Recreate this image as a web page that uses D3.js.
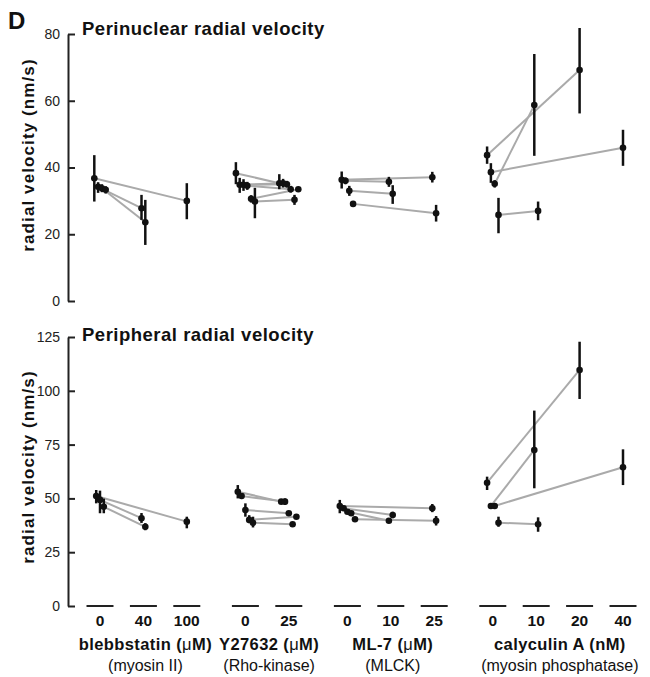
<!DOCTYPE html>
<html>
<head>
<meta charset="utf-8">
<script src="https://cdn.jsdelivr.net/npm/d3@7"></script>
<style>
  body { margin: 0; background: #fff; }
  svg { display: block; font-family: "Liberation Sans", Arial, sans-serif; }
</style>
</head>
<body>
<div id="chart"></div>
<script>
// drug groups and the doses tested in each
const groups = ["blebbstatin", "Y27632", "ML-7", "calyculin A"];
const groupDoses = [["0", "40", "100"], ["0", "25"], ["0", "10", "25"], ["0", "10", "20", "40"]];
const groupNames = ["blebbstatin", "Y27632", "ML-7", "calyculin A"];
const groupUnits = ["μM", "μM", "μM", "nM"];
const groupTargets = ["(myosin II)", "(Rho-kinase)", "(MLCK)", "(myosin phosphatase)"];

const topTicks = [0, 20, 40, 60, 80];
const bottomTicks = [0, 25, 50, 75, 100, 125];

// group, dose, mean, error low, error high, experiment
const perinuclear = [
    ["blebbstatin", "0", 36.8, 29.8, 43.7, 1],
    ["blebbstatin", "0", 34.2, 32.4, 35.6, 2],
    ["blebbstatin", "0", 33.8, 32.6, 35.0, 3],
    ["blebbstatin", "0", 33.3, 32.2, 34.4, 4],
    ["blebbstatin", "40", 27.8, 24.3, 31.8, 2],
    ["blebbstatin", "40", 23.6, 16.8, 30.3, 3],
    ["blebbstatin", "100", 30.0, 24.5, 35.3, 1],
    ["Y27632", "0", 38.3, 35.0, 41.6, 1],
    ["Y27632", "0", 34.8, 32.4, 36.9, 2],
    ["Y27632", "0", 34.8, 33.0, 36.5, 3],
    ["Y27632", "0", 34.5, 33.3, 35.7, 4],
    ["Y27632", "0", 30.6, 29.5, 31.7, 5],
    ["Y27632", "0", 29.8, 24.8, 33.9, 6],
    ["Y27632", "25", 35.3, 33.5, 38.0, 1],
    ["Y27632", "25", 35.3, 34.0, 36.6, 2],
    ["Y27632", "25", 35.0, 34.0, 36.0, 3],
    ["Y27632", "25", 33.5, 32.5, 34.5, 4],
    ["Y27632", "25", 30.3, 28.8, 31.8, 6],
    ["Y27632", "25", 33.5, 33.5, 33.5, 5],
    ["ML-7", "0", 36.3, 33.7, 38.8, 1],
    ["ML-7", "0", 36.0, 35.0, 37.0, 2],
    ["ML-7", "0", 33.0, 31.5, 34.5, 3],
    ["ML-7", "0", 29.1, 29.1, 29.1, 4],
    ["ML-7", "10", 35.7, 34.2, 37.2, 2],
    ["ML-7", "10", 32.1, 29.1, 34.7, 3],
    ["ML-7", "25", 37.1, 35.5, 38.7, 1],
    ["ML-7", "25", 26.3, 23.8, 28.8, 4],
    ["calyculin A", "0", 43.7, 41.1, 46.3, 1],
    ["calyculin A", "0", 38.6, 35.4, 41.3, 2],
    ["calyculin A", "0", 35.1, 34.0, 36.2, 3],
    ["calyculin A", "0", 25.8, 20.3, 30.9, 4],
    ["calyculin A", "10", 58.7, 43.5, 74.0, 3],
    ["calyculin A", "10", 27.0, 24.2, 29.8, 4],
    ["calyculin A", "20", 69.2, 56.2, 81.8, 1],
    ["calyculin A", "40", 45.9, 40.5, 51.3, 2]
];

const peripheral = [
    ["blebbstatin", "0", 51.1, 47.7, 53.9, 1],
    ["blebbstatin", "0", 49.3, 43.1, 53.6, 2],
    ["blebbstatin", "0", 46.1, 43.1, 49.9, 3],
    ["blebbstatin", "40", 40.8, 38.6, 43.2, 2],
    ["blebbstatin", "40", 36.8, 35.2, 38.5, 3],
    ["blebbstatin", "100", 39.2, 36.1, 41.5, 1],
    ["Y27632", "0", 53.1, 50.0, 56.2, 1],
    ["Y27632", "0", 51.1, 49.7, 52.5, 2],
    ["Y27632", "0", 44.6, 41.5, 47.7, 3],
    ["Y27632", "0", 40.0, 38.5, 42.2, 4],
    ["Y27632", "0", 38.7, 36.5, 41.5, 5],
    ["Y27632", "25", 48.5, 48.5, 48.5, 1],
    ["Y27632", "25", 48.5, 47.0, 50.0, 2],
    ["Y27632", "25", 43.1, 43.1, 43.1, 3],
    ["Y27632", "25", 38.0, 38.0, 38.0, 5],
    ["Y27632", "25", 41.5, 41.5, 41.5, 4],
    ["ML-7", "0", 46.5, 43.1, 49.3, 1],
    ["ML-7", "0", 45.4, 44.3, 46.5, 2],
    ["ML-7", "0", 43.8, 42.8, 44.8, 3],
    ["ML-7", "0", 43.1, 42.3, 43.9, 4],
    ["ML-7", "0", 40.3, 40.3, 40.3, 5],
    ["ML-7", "10", 39.6, 39.6, 39.6, 3],
    ["ML-7", "10", 42.3, 40.8, 43.8, 2],
    ["ML-7", "25", 45.4, 43.6, 47.4, 1],
    ["ML-7", "25", 39.6, 37.4, 41.8, 5],
    ["calyculin A", "0", 57.3, 53.9, 60.1, 1],
    ["calyculin A", "0", 46.5, 46.5, 46.5, 2],
    ["calyculin A", "0", 46.5, 46.5, 46.5, 3],
    ["calyculin A", "0", 38.7, 36.8, 41.5, 4],
    ["calyculin A", "10", 72.5, 54.7, 90.8, 2],
    ["calyculin A", "10", 38.0, 34.5, 41.2, 4],
    ["calyculin A", "20", 109.7, 96.2, 122.8, 1],
    ["calyculin A", "40", 64.5, 56.2, 72.8, 3]
];

const width = 650, height = 677;
const font = '"Liberation Sans", Arial, sans-serif';

const svg = d3.select("#chart").append("svg")
    .attr("width", width)
    .attr("height", height);

// slot positions: one unit per dose, a little extra gap between drugs
const groupGap = 0.35;
const slots = [];
let pos = 0;
groups.forEach((g, gi) => {
    if (gi > 0) pos += groupGap;
    groupDoses[gi].forEach(d => {
        slots.push({ group: g, dose: d, u: pos });
        pos += 1;
    });
});
const slotU = new Map(slots.map(s => [s.group + "|" + s.dose, s.u]));
const x = d3.scaleLinear().domain([0, pos - 1]).range([100, 623]);
const jitter = 3.8;
const barWidth = 27;

function drawPanel(rows, yScale, ticks, title, titleY, labelY) {
    const g = svg.append("g");

    // y axis, ticks pointing inward
    const axis = g.append("g")
        .attr("transform", "translate(68,0)")
        .call(d3.axisLeft(yScale).tickValues(ticks).tickSizeInner(-7).tickSizeOuter(0).tickPadding(8));
    axis.select(".domain").attr("stroke", "#222").attr("stroke-width", 2);
    axis.selectAll(".tick line").attr("stroke", "#222").attr("stroke-width", 2);
    axis.selectAll(".tick text")
        .attr("font-family", font)
        .attr("font-size", 14)
        .attr("fill", "#222");

    g.append("text")
        .attr("transform", `translate(34,${labelY}) rotate(-90)`)
        .attr("text-anchor", "middle")
        .attr("font-family", font)
        .attr("font-weight", "bold")
        .attr("font-size", 17)
        .attr("letter-spacing", 1.1)
        .attr("fill", "#111")
        .text("radial velocity (nm/s)");

    g.append("text")
        .attr("x", 82)
        .attr("y", titleY)
        .attr("font-family", font)
        .attr("font-weight", "bold")
        .attr("font-size", 18.5)
        .attr("letter-spacing", 0.5)
        .attr("fill", "#111")
        .text(title);

    // place points inside their slot
    const pts = rows.map(r => ({ group: r[0], dose: r[1], mean: r[2], lo: r[3], hi: r[4], exp: r[5] }));
    const bySlot = d3.group(pts, d => d.group + "|" + d.dose);
    bySlot.forEach((list, key) => {
        const cx = x(slotU.get(key));
        list.forEach((p, k) => {
            p.x = cx + (k - (list.length - 1) / 2) * jitter;
        });
    });

    // connecting lines control -> treated
    const links = [];
    d3.group(pts, d => d.group, d => d.exp).forEach(byExp => {
        byExp.forEach(list => {
            const ctrl = list.find(p => p.dose === "0");
            list.filter(p => p.dose !== "0").forEach(t => { if (ctrl) links.push([ctrl, t]); });
        });
    });

    g.append("g").selectAll("line")
        .data(links)
        .join("line")
        .attr("x1", d => d[0].x)
        .attr("y1", d => yScale(d[0].mean))
        .attr("x2", d => d[1].x)
        .attr("y2", d => yScale(d[1].mean))
        .attr("stroke", "#aaa")
        .attr("stroke-width", 2);

    g.append("g").selectAll("line")
        .data(pts.filter(p => p.hi > p.lo))
        .join("line")
        .attr("x1", d => d.x)
        .attr("x2", d => d.x)
        .attr("y1", d => yScale(d.hi))
        .attr("y2", d => yScale(d.lo))
        .attr("stroke", "#111")
        .attr("stroke-width", 2.5);

    g.append("g").selectAll("circle")
        .data(pts)
        .join("circle")
        .attr("cx", d => d.x)
        .attr("cy", d => yScale(d.mean))
        .attr("r", 3.3)
        .attr("fill", "#111");
}

const yTop = d3.scaleLinear().domain([0, 80]).range([301, 34]);
const yBottom = d3.scaleLinear().domain([0, 125]).range([606, 337]);

drawPanel(perinuclear, yTop, topTicks, "Perinuclear radial velocity", 35, 155);
drawPanel(peripheral, yBottom, bottomTicks, "Peripheral radial velocity", 341, 467);

// panel letter
svg.append("text")
    .attr("x", 8)
    .attr("y", 29)
    .attr("font-family", font)
    .attr("font-weight", "bold")
    .attr("font-size", 24)
    .attr("fill", "#111")
    .text("D");

// dose bars and labels under the lower panel
const xAxis = svg.append("g");
xAxis.selectAll("line")
    .data(slots)
    .join("line")
    .attr("x1", d => x(d.u) - barWidth / 2)
    .attr("x2", d => x(d.u) + barWidth / 2)
    .attr("y1", yBottom(0))
    .attr("y2", yBottom(0))
    .attr("stroke", "#222")
    .attr("stroke-width", 2);

xAxis.selectAll("text.dose")
    .data(slots)
    .join("text")
    .attr("class", "dose")
    .attr("x", d => x(d.u))
    .attr("y", 626)
    .attr("text-anchor", "middle")
    .attr("font-family", font)
    .attr("font-weight", "bold")
    .attr("font-size", 15.5)
    .attr("fill", "#111")
    .text(d => d.dose);

groups.forEach((g, gi) => {
    const us = slots.filter(s => s.group === g).map(s => s.u);
    const cx = x((d3.min(us) + d3.max(us)) / 2) + 2;
    const name = xAxis.append("text")
        .attr("x", cx)
        .attr("y", 650)
        .attr("text-anchor", "middle")
        .attr("font-family", font)
        .attr("font-weight", "bold")
        .attr("font-size", 16.5)
        .attr("letter-spacing", 0.4)
        .attr("fill", "#111");
    name.append("tspan").text(groupNames[gi] + " (");
    name.append("tspan")
        .attr("font-weight", groupUnits[gi] === "nM" ? "bold" : "normal")
        .text(groupUnits[gi].charAt(0));
    name.append("tspan").text(groupUnits[gi].slice(1) + ")");

    xAxis.append("text")
        .attr("x", cx)
        .attr("y", 671)
        .attr("text-anchor", "middle")
        .attr("font-family", font)
        .attr("font-size", 16)
        .attr("fill", "#111")
        .text(groupTargets[gi]);
});
</script>
</body>
</html>
